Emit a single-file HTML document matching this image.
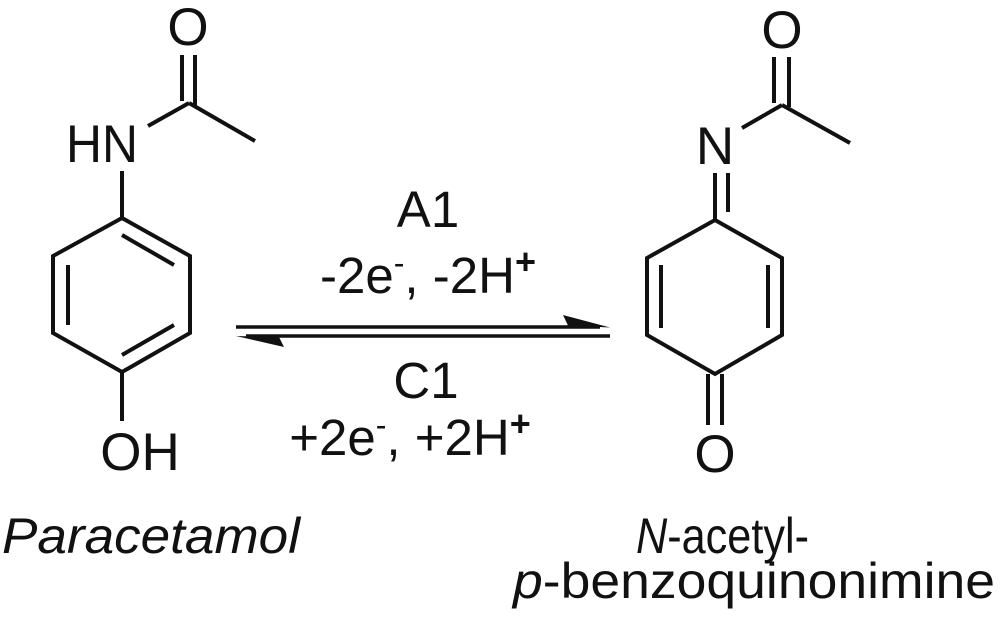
<!DOCTYPE html>
<html><head><meta charset="utf-8"><style>
html,body{margin:0;padding:0;background:#fff;}
svg{display:block;}
text{font-family:"Liberation Sans",Arial,sans-serif;fill:#111;}
</style></head><body>
<svg width="1000" height="629" viewBox="0 0 1000 629" xmlns="http://www.w3.org/2000/svg">
<g stroke="#111" stroke-width="4" fill="none" stroke-linecap="butt">
<polygon points="122,218 190,256 190,333 122,372 53,333 53,256" stroke-linejoin="miter"/>
<line x1="122" y1="235" x2="174" y2="265"/>
<line x1="68" y1="265" x2="68" y2="325"/>
<line x1="122" y1="355" x2="174" y2="325"/>
<line x1="122" y1="171" x2="122" y2="218"/>
<line x1="122" y1="372" x2="122" y2="421"/>
<line x1="148" y1="126" x2="189" y2="103"/>
<line x1="189" y1="103" x2="255" y2="141"/>
<line x1="182" y1="55" x2="182" y2="101"/>
<line x1="195" y1="55" x2="195" y2="105"/>
<polygon points="715,220 782,258 782,335 715,374 647,335 647,258"/>
<line x1="661" y1="265" x2="661" y2="328"/>
<line x1="768" y1="265" x2="768" y2="328"/>
<line x1="715" y1="173" x2="715" y2="220"/>
<line x1="728" y1="173" x2="728" y2="212"/>
<line x1="742" y1="128" x2="782" y2="105"/>
<line x1="782" y1="105" x2="850" y2="143"/>
<line x1="774" y1="57" x2="774" y2="103"/>
<line x1="789" y1="57" x2="789" y2="107"/>
<line x1="708" y1="374" x2="708" y2="425"/>
<line x1="722" y1="374" x2="722" y2="425"/>
<line x1="236" y1="327" x2="600" y2="327" stroke-width="3.5"/>
<line x1="246" y1="336" x2="610" y2="336" stroke-width="3.5"/>
</g>
<polygon points="610,327.5 563,315 568,325.5" fill="#111"/>
<polygon points="236,336 284,347 279,337" fill="#111"/>

<g font-size="53">
<text x="188" y="45" text-anchor="middle">O</text>
<text x="102" y="162" text-anchor="middle" textLength="72" lengthAdjust="spacingAndGlyphs">HN</text>
<text x="140" y="470" text-anchor="middle">OH</text>
<text x="782" y="48" text-anchor="middle">O</text>
<text x="715" y="164" text-anchor="middle">N</text>
<text x="715" y="472" text-anchor="middle">O</text>
</g>
<g font-size="51" text-anchor="middle">
<text x="428" y="227">A1</text>
<text x="428" y="293">-2e<tspan font-size="32" dy="-19">-</tspan><tspan dy="19">, -2H</tspan><tspan font-size="36" font-weight="bold" dy="-19">+</tspan></text>
<text x="426" y="398">C1</text>
<text x="410" y="455">+2e<tspan font-size="32" dy="-19">-</tspan><tspan dy="19">, +2H</tspan><tspan font-size="36" font-weight="bold" dy="-19">+</tspan></text>
</g>
<g font-size="50">
<text x="2" y="553" font-style="italic" textLength="298" lengthAdjust="spacingAndGlyphs">Paracetamol</text>
<text x="636" y="553" textLength="173" lengthAdjust="spacingAndGlyphs"><tspan font-style="italic">N</tspan>-acetyl-</text>
<text x="513" y="598" textLength="482" lengthAdjust="spacingAndGlyphs"><tspan font-style="italic">p</tspan>-benzoquinonimine</text>
</g>
</svg>
</body></html>
